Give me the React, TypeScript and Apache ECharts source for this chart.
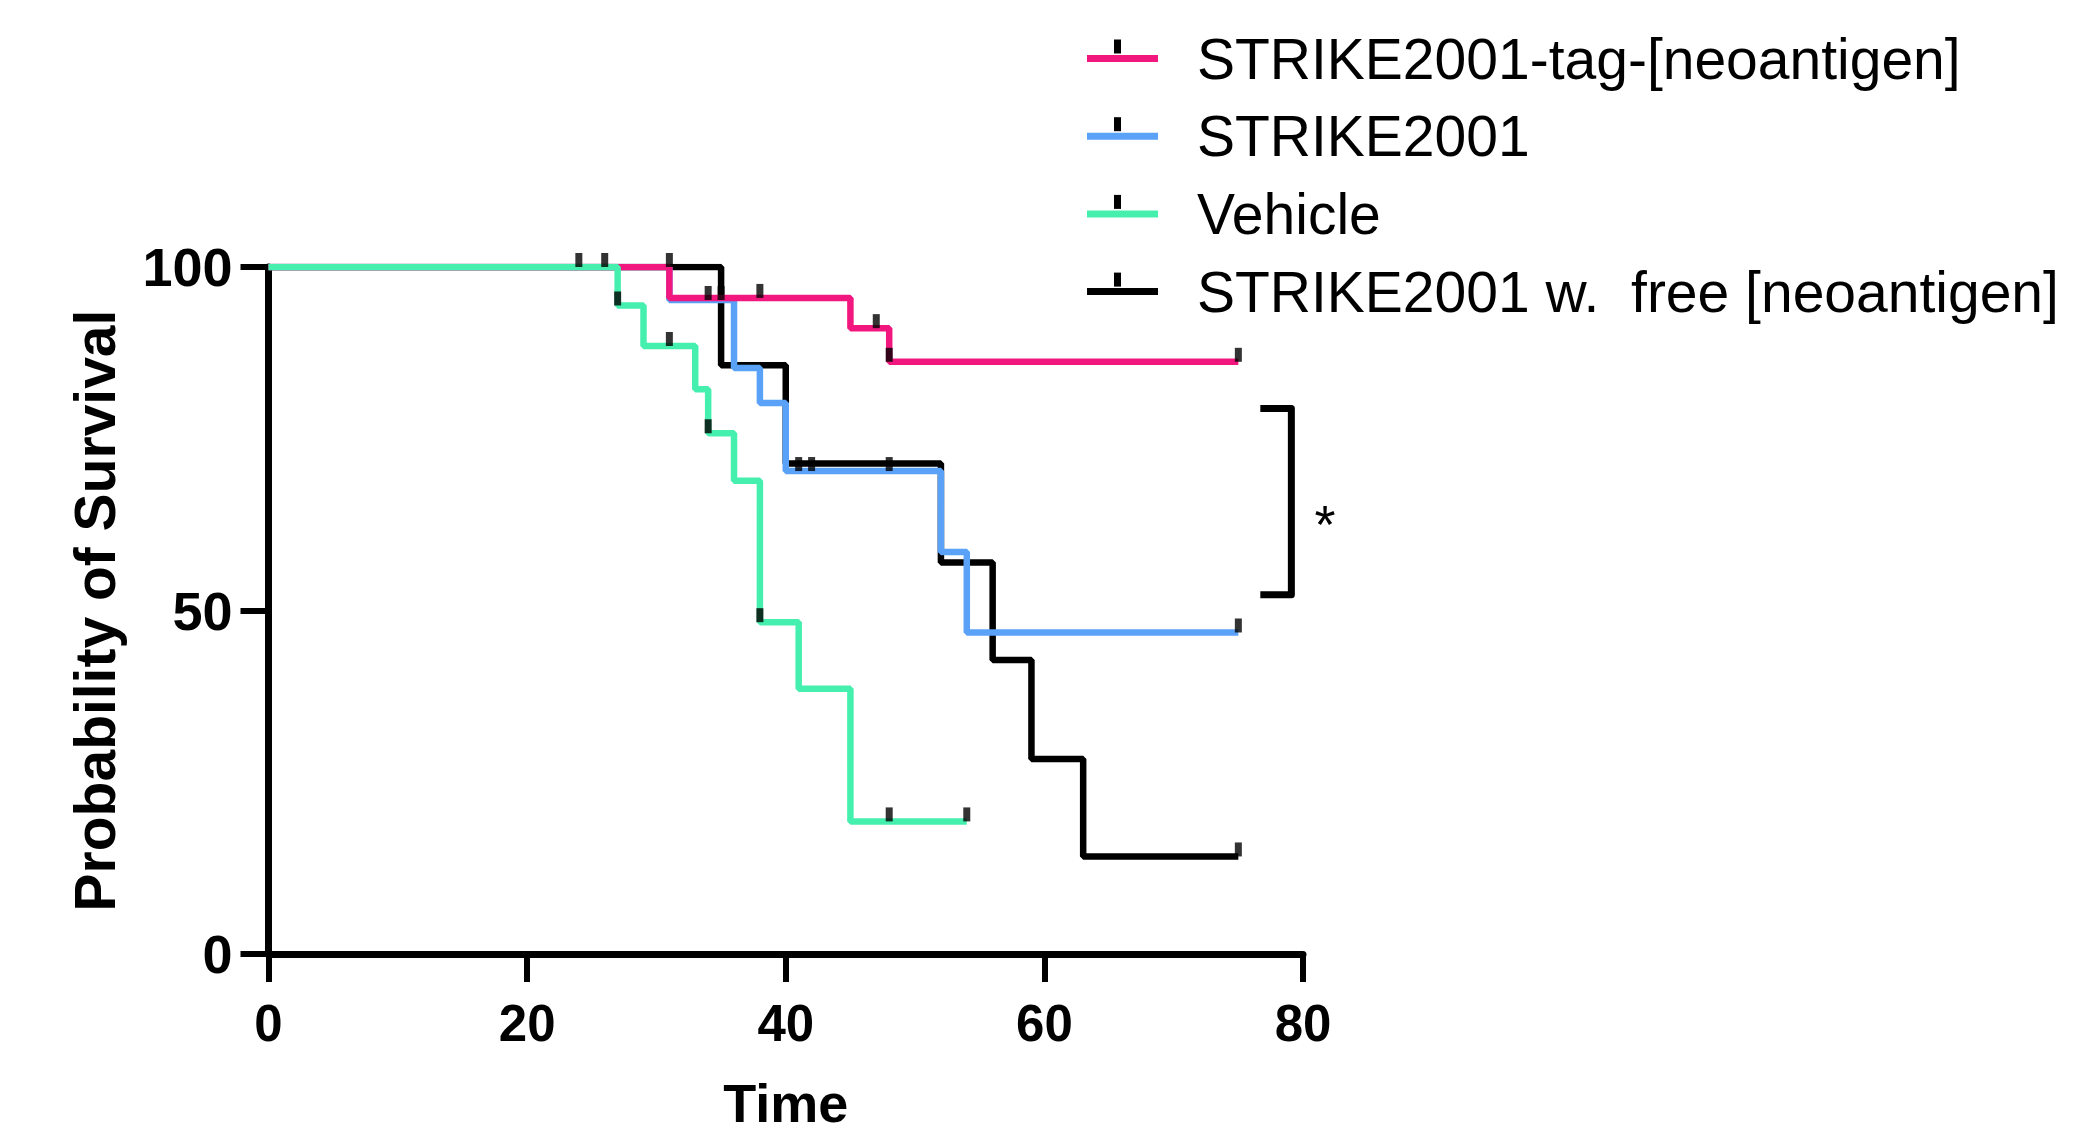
import React, { useEffect, useRef } from "react";
import * as echarts from "echarts";

const FONT = "'Liberation Sans', Arial, Helvetica, sans-serif";

// Legend order (top to bottom)
const legendNames = [
  "STRIKE2001-tag-[neoantigen]",
  "STRIKE2001",
  "Vehicle",
  "STRIKE2001 w.  free [neoantigen]",
];
const legendColors = ["#F2167F", "#5AA1F8", "#45F0AF", "#000000"];

// Kaplan-Meier step data: [time, survival %] (value after each event)
const tagSurvival = [[0, 100], [31, 95.5], [45, 91.1], [48, 86.2], [75, 86.2]];
const tagCensored = [[26, 100], [38, 95.5], [47, 91.1], [48, 86.2], [75, 86.2]];

const strikeSurvival = [[0, 100], [31, 95.2], [36, 85.3], [38, 80.2], [40, 70.3], [52, 58.5], [54, 46.8], [75, 46.8]];
const strikeCensored = [[24, 100], [34, 95.2], [35, 95.2], [41, 70.3], [42, 70.3], [48, 70.3], [75, 46.8]];

const vehicleSurvival = [[0, 100], [27, 94.4], [29, 88.5], [33, 82.2], [34, 75.8], [36, 68.9], [38, 48.3], [41, 38.6], [45, 19.3], [54, 19.3]];
const vehicleCensored = [[27, 94.4], [31, 88.5], [34, 75.8], [38, 48.3], [48, 19.3], [54, 19.3]];

const freeSurvival = [[0, 100], [35, 85.7], [40, 71.4], [52, 57.0], [56, 42.8], [59, 28.4], [63, 14.2], [75, 14.2]];
const freeCensored = [[31, 100], [75, 14.2]];

// Significance bracket (data coords) and label
const bracketX = [76.7, 79.1];
const bracketY = [79.4, 52.3];
const significanceLabel = "*";

const xTicks = [0, 20, 40, 60, 80];
const yTicks = [0, 50, 100];

export default function App() {
  const ref = useRef<HTMLDivElement>(null);

  useEffect(() => {
    if (!ref.current) return;
    const chart = echarts.init(ref.current, undefined, { renderer: "svg" });

    const lineSeries = (name: string, color: string, data: number[][], z: number) => ({
      name,
      type: "line",
      step: "end",
      data,
      color,
      showSymbol: false,
      symbol: "none",
      lineStyle: { width: 6.5, color },
      z,
      silent: true,
    });
    const censorSeries = (name: string, data: number[][]) => ({
      name,
      type: "scatter",
      data,
      symbol: "rect",
      symbolSize: [7, 14],
      symbolOffset: [0, -7],
      itemStyle: { color: "#000" },
      z: 10,
      silent: true,
    });

    const legendLeft = 1082;
    const legendTop0 = 53.5;
    const legendStep = 77.7;
    const legendTicks = legendNames.map((_, i) => ({
      type: "rect",
      shape: { x: legendLeft + 35.5 - 3.5, y: legendTop0 + legendStep * i - 14, width: 7, height: 14 },
      style: { fill: "#000" },
      z: 100,
    }));

    const bracket = [
      [bracketX[0], bracketY[0]],
      [bracketX[1], bracketY[0]],
      [bracketX[1], bracketY[1]],
      [bracketX[0], bracketY[1]],
    ];

    chart.setOption({
      animation: false,
      backgroundColor: "#fff",
      textStyle: { fontFamily: FONT },
      grid: { left: 268.5, right: 771, top: 267, bottom: 179, containLabel: false },
      legend: {
        data: legendNames,
        orient: "vertical",
        left: legendLeft,
        top: legendTop0 - 30,
        itemWidth: 71,
        itemHeight: 7,
        itemGap: legendStep - 60,
        icon: "rect",
        selectedMode: false,
        textStyle: { fontSize: 57, lineHeight: 60, color: "#000", fontFamily: FONT, padding: [0, 0, 0, 34] },
      },
      xAxis: {
        type: "value",
        min: xTicks[0],
        max: xTicks[xTicks.length - 1],
        interval: xTicks[1] - xTicks[0],
        splitLine: { show: false },
        axisLine: { show: true, lineStyle: { color: "#000", width: 7 } },
        axisTick: { show: true, length: 28, lineStyle: { color: "#000", width: 6 } },
        axisLabel: { fontSize: 51, fontWeight: "bold", color: "#000", margin: 44, fontFamily: FONT },
        name: "Time",
        nameLocation: "middle",
        nameGap: 122,
        nameTextStyle: { fontSize: 54, fontWeight: "bold", color: "#000", fontFamily: FONT },
      },
      yAxis: {
        type: "value",
        min: yTicks[0],
        max: yTicks[yTicks.length - 1],
        interval: yTicks[1] - yTicks[0],
        splitLine: { show: false },
        axisLine: { show: true, lineStyle: { color: "#000", width: 7 } },
        axisTick: { show: true, length: 28, lineStyle: { color: "#000", width: 6 } },
        axisLabel: { fontSize: 54, fontWeight: "bold", color: "#000", margin: 36, fontFamily: FONT },
        name: "Probability of Survival",
        nameLocation: "middle",
        nameGap: 145,
        nameRotate: 90,
        nameTextStyle: { fontSize: 57, fontWeight: "bold", color: "#000", fontFamily: FONT },
      },
      series: [
        lineSeries(legendNames[3], legendColors[3], freeSurvival, 2),
        lineSeries(legendNames[1], legendColors[1], strikeSurvival, 3),
        lineSeries(legendNames[0], legendColors[0], tagSurvival, 4),
        lineSeries(legendNames[2], legendColors[2], vehicleSurvival, 5),
        censorSeries("free censored", freeCensored),
        censorSeries("strike censored", strikeCensored),
        censorSeries("tag censored", tagCensored),
        censorSeries("vehicle censored", vehicleCensored),
        {
          name: "bracket",
          type: "line",
          data: bracket,
          symbol: "none",
          lineStyle: { width: 7, color: "#000", join: "round" },
          color: "#000",
          silent: true,
          z: 6,
        },
      ],
      graphic: [
        ...legendTicks,
        {
          type: "text",
          x: 1325,
          y: 524,
          style: {
            text: significanceLabel,
            fontSize: 54,
            fill: "#000",
            textAlign: "center",
            textVerticalAlign: "middle",
            fontFamily: FONT,
          },
          z: 100,
        },
      ],
    });

    return () => chart.dispose();
  }, []);

  return (
    <div
      ref={ref}
      style={{ position: "fixed", left: 0, top: 0, width: 2074, height: 1135, background: "#fff" }}
    />
  );
}
